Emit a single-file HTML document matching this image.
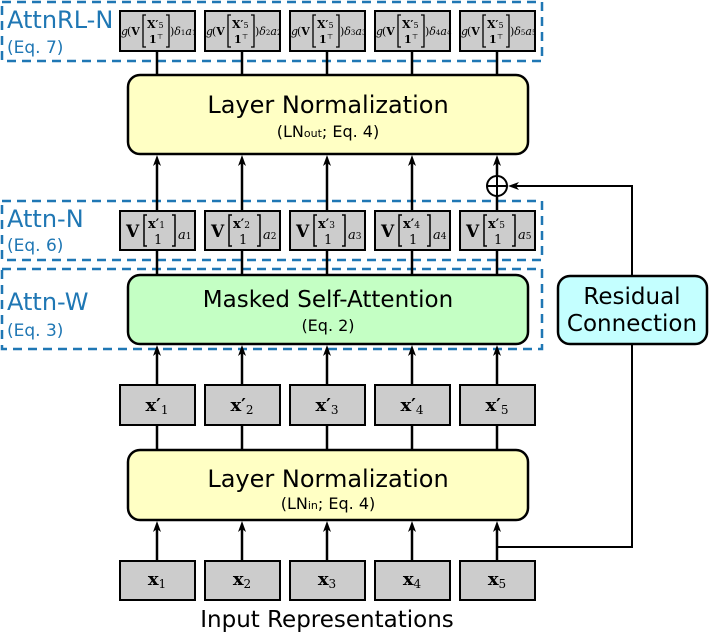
<!DOCTYPE html>
<html><head><meta charset="utf-8"><style>
html,body{margin:0;padding:0;background:#fff;}
svg{display:block;}
.sans{font-family:"DejaVu Sans","Liberation Sans",sans-serif;}
.ser{font-family:"DejaVu Serif","Liberation Serif",serif;}
</style></head><body>
<svg width="709" height="639" viewBox="0 0 709 639" xmlns="http://www.w3.org/2000/svg">

<!-- dashed groups -->
<g fill="none" stroke="#1f77b4" stroke-width="2.5" stroke-dasharray="9,6">
<rect x="2" y="2" width="540" height="59"/>
<rect x="2" y="201" width="540" height="59"/>
<rect x="2" y="269" width="540" height="80"/>
</g>
<g class="sans" fill="#1f77b4">
<text x="7" y="28" font-size="24">AttnRL-N</text>
<text x="7" y="53" font-size="17">(Eq. 7)</text>
<text x="7" y="227" font-size="24">Attn-N</text>
<text x="7" y="251" font-size="17">(Eq. 6)</text>
<text x="7" y="310" font-size="24">Attn-W</text>
<text x="7" y="336" font-size="17">(Eq. 3)</text>
</g>

<!-- vertical connectors -->
<g stroke="#000" stroke-width="2.5">
<line x1="157" y1="51" x2="157" y2="75"/><line x1="242" y1="51" x2="242" y2="75"/><line x1="327" y1="51" x2="327" y2="75"/><line x1="412" y1="51" x2="412" y2="75"/><line x1="497" y1="51" x2="497" y2="75"/>
<line x1="157" y1="211" x2="157" y2="160"/><line x1="242" y1="211" x2="242" y2="160"/><line x1="327" y1="211" x2="327" y2="160"/><line x1="412" y1="211" x2="412" y2="160"/><line x1="497" y1="176" x2="497" y2="160"/>
<line x1="497" y1="196" x2="497" y2="211"/>
<line x1="157" y1="250" x2="157" y2="275"/><line x1="242" y1="250" x2="242" y2="275"/><line x1="327" y1="250" x2="327" y2="275"/><line x1="412" y1="250" x2="412" y2="275"/><line x1="497" y1="250" x2="497" y2="275"/>
<line x1="157" y1="385" x2="157" y2="350"/><line x1="242" y1="385" x2="242" y2="350"/><line x1="327" y1="385" x2="327" y2="350"/><line x1="412" y1="385" x2="412" y2="350"/><line x1="497" y1="385" x2="497" y2="350"/>
<line x1="157" y1="425" x2="157" y2="450"/><line x1="242" y1="425" x2="242" y2="450"/><line x1="327" y1="425" x2="327" y2="450"/><line x1="412" y1="425" x2="412" y2="450"/><line x1="497" y1="425" x2="497" y2="450"/>
<line x1="157" y1="561" x2="157" y2="526"/><line x1="242" y1="561" x2="242" y2="526"/><line x1="327" y1="561" x2="327" y2="526"/><line x1="412" y1="561" x2="412" y2="526"/><line x1="497" y1="561" x2="497" y2="526"/>
<polyline points="497,547 632,547 632,186 512,186" fill="none" stroke-width="2"/>
<circle cx="497" cy="186" r="10" fill="#fff" stroke-width="2"/>
<line x1="487" y1="186" x2="507" y2="186" stroke-width="2"/>
<line x1="497" y1="176" x2="497" y2="196" stroke-width="2"/>
</g>
<!-- arrowheads -->
<g fill="#000">
<path d="M157,155 l-4,11 l4,-3 l4,3 Z"/><path d="M242,155 l-4,11 l4,-3 l4,3 Z"/><path d="M327,155 l-4,11 l4,-3 l4,3 Z"/><path d="M412,155 l-4,11 l4,-3 l4,3 Z"/><path d="M497,155 l-4,11 l4,-3 l4,3 Z"/>
<path d="M157,345 l-4,11 l4,-3 l4,3 Z"/><path d="M242,345 l-4,11 l4,-3 l4,3 Z"/><path d="M327,345 l-4,11 l4,-3 l4,3 Z"/><path d="M412,345 l-4,11 l4,-3 l4,3 Z"/><path d="M497,345 l-4,11 l4,-3 l4,3 Z"/>
<path d="M157,521 l-4,11 l4,-3 l4,3 Z"/><path d="M242,521 l-4,11 l4,-3 l4,3 Z"/><path d="M327,521 l-4,11 l4,-3 l4,3 Z"/><path d="M412,521 l-4,11 l4,-3 l4,3 Z"/><path d="M497,521 l-4,11 l4,-3 l4,3 Z"/>
<path d="M508,186 l11,-4 l-3,4 l3,4 Z"/>
</g>

<!-- big boxes -->
<g stroke="#000" stroke-width="2.5">
<rect x="128" y="75" width="400" height="79" rx="12" fill="#ffffc4"/>
<rect x="128" y="275" width="400" height="69" rx="12" fill="#c4ffc4"/>
<rect x="128" y="450" width="400" height="70" rx="12" fill="#ffffc4"/>
<rect x="558" y="276" width="149" height="68" rx="12" fill="#c4ffff"/>
</g>
<g class="sans" fill="#000" text-anchor="middle">
<text x="328" y="113" font-size="24">Layer Normalization</text>
<text x="328" y="137" font-size="16">(LN<tspan font-size="11">out</tspan>; Eq. 4)</text>
<text x="328" y="307" font-size="23">Masked Self-Attention</text>
<text x="328" y="331" font-size="16">(Eq. 2)</text>
<text x="328" y="487" font-size="24">Layer Normalization</text>
<text x="328" y="509" font-size="16">(LN<tspan font-size="11">in</tspan>; Eq. 4)</text>
<text x="632" y="304" font-size="23">Residual</text>
<text x="632" y="331" font-size="23">Connection</text>
<text x="327" y="627" font-size="23">Input Representations</text>
</g>

<!-- small boxes -->
<g fill="#cccccc" stroke="#000" stroke-width="2">
<rect x="120" y="11" width="75" height="40"/><rect x="205" y="11" width="75" height="40"/><rect x="290" y="11" width="75" height="40"/><rect x="375" y="11" width="75" height="40"/><rect x="460" y="11" width="75" height="40"/>
<rect x="120" y="211" width="75" height="39"/><rect x="205" y="211" width="75" height="39"/><rect x="290" y="211" width="75" height="39"/><rect x="375" y="211" width="75" height="39"/><rect x="460" y="211" width="75" height="39"/>
<rect x="120" y="385" width="75" height="40"/><rect x="205" y="385" width="75" height="40"/><rect x="290" y="385" width="75" height="40"/><rect x="375" y="385" width="75" height="40"/><rect x="460" y="385" width="75" height="40"/>
<rect x="120" y="561" width="75" height="39"/><rect x="205" y="561" width="75" height="39"/><rect x="290" y="561" width="75" height="39"/><rect x="375" y="561" width="75" height="39"/><rect x="460" y="561" width="75" height="39"/>
</g>

<!-- top box contents -->
<g class="ser" font-size="11">
<g transform="translate(120,0)">
<text x="1" y="35" font-style="italic">g</text><text x="7" y="35">(<tspan font-weight="bold">V</tspan></text>
<path d="M26,15 h-3 v32 h3 M46,15 h3 v32 h-3" fill="none" stroke="#000" stroke-width="1.3"/>
<text x="27" y="28" font-weight="bold">X′<tspan font-size="8" font-weight="normal">5</tspan></text>
<text x="29" y="43" font-weight="bold">1<tspan font-size="7" font-weight="normal" dy="-4">⊤</tspan></text>
<text x="50" y="35">)<tspan font-style="italic">δ</tspan><tspan font-size="7">1</tspan><tspan font-style="italic">a</tspan><tspan font-size="7">1</tspan></text>
</g>
<g transform="translate(205,0)">
<text x="1" y="35" font-style="italic">g</text><text x="7" y="35">(<tspan font-weight="bold">V</tspan></text>
<path d="M26,15 h-3 v32 h3 M46,15 h3 v32 h-3" fill="none" stroke="#000" stroke-width="1.3"/>
<text x="27" y="28" font-weight="bold">X′<tspan font-size="8" font-weight="normal">5</tspan></text>
<text x="29" y="43" font-weight="bold">1<tspan font-size="7" font-weight="normal" dy="-4">⊤</tspan></text>
<text x="50" y="35">)<tspan font-style="italic">δ</tspan><tspan font-size="7">2</tspan><tspan font-style="italic">a</tspan><tspan font-size="7">2</tspan></text>
</g>
<g transform="translate(290,0)">
<text x="1" y="35" font-style="italic">g</text><text x="7" y="35">(<tspan font-weight="bold">V</tspan></text>
<path d="M26,15 h-3 v32 h3 M46,15 h3 v32 h-3" fill="none" stroke="#000" stroke-width="1.3"/>
<text x="27" y="28" font-weight="bold">X′<tspan font-size="8" font-weight="normal">5</tspan></text>
<text x="29" y="43" font-weight="bold">1<tspan font-size="7" font-weight="normal" dy="-4">⊤</tspan></text>
<text x="50" y="35">)<tspan font-style="italic">δ</tspan><tspan font-size="7">3</tspan><tspan font-style="italic">a</tspan><tspan font-size="7">3</tspan></text>
</g>
<g transform="translate(375,0)">
<text x="1" y="35" font-style="italic">g</text><text x="7" y="35">(<tspan font-weight="bold">V</tspan></text>
<path d="M26,15 h-3 v32 h3 M46,15 h3 v32 h-3" fill="none" stroke="#000" stroke-width="1.3"/>
<text x="27" y="28" font-weight="bold">X′<tspan font-size="8" font-weight="normal">5</tspan></text>
<text x="29" y="43" font-weight="bold">1<tspan font-size="7" font-weight="normal" dy="-4">⊤</tspan></text>
<text x="50" y="35">)<tspan font-style="italic">δ</tspan><tspan font-size="7">4</tspan><tspan font-style="italic">a</tspan><tspan font-size="7">4</tspan></text>
</g>
<g transform="translate(460,0)">
<text x="1" y="35" font-style="italic">g</text><text x="7" y="35">(<tspan font-weight="bold">V</tspan></text>
<path d="M26,15 h-3 v32 h3 M46,15 h3 v32 h-3" fill="none" stroke="#000" stroke-width="1.3"/>
<text x="27" y="28" font-weight="bold">X′<tspan font-size="8" font-weight="normal">5</tspan></text>
<text x="29" y="43" font-weight="bold">1<tspan font-size="7" font-weight="normal" dy="-4">⊤</tspan></text>
<text x="50" y="35">)<tspan font-style="italic">δ</tspan><tspan font-size="7">5</tspan><tspan font-style="italic">a</tspan><tspan font-size="7">5</tspan></text>
</g>
</g>

<!-- Attn-N box contents -->
<g class="ser" font-size="17">
<g transform="translate(120,211)">
<text x="6" y="26" font-weight="bold">V</text>
<path d="M27,4 h-3 v31 h3 M52,4 h3 v31 h-3" fill="none" stroke="#000" stroke-width="1.5"/>
<text x="28" y="17" font-size="13" font-weight="bold">x′<tspan font-size="9" font-weight="normal">1</tspan></text>
<text x="34" y="33" font-size="13">1</text>
<text x="58" y="28" font-size="13" font-style="italic">a<tspan font-size="9" font-style="normal">1</tspan></text>
</g>
<g transform="translate(205,211)">
<text x="6" y="26" font-weight="bold">V</text>
<path d="M27,4 h-3 v31 h3 M52,4 h3 v31 h-3" fill="none" stroke="#000" stroke-width="1.5"/>
<text x="28" y="17" font-size="13" font-weight="bold">x′<tspan font-size="9" font-weight="normal">2</tspan></text>
<text x="34" y="33" font-size="13">1</text>
<text x="58" y="28" font-size="13" font-style="italic">a<tspan font-size="9" font-style="normal">2</tspan></text>
</g>
<g transform="translate(290,211)">
<text x="6" y="26" font-weight="bold">V</text>
<path d="M27,4 h-3 v31 h3 M52,4 h3 v31 h-3" fill="none" stroke="#000" stroke-width="1.5"/>
<text x="28" y="17" font-size="13" font-weight="bold">x′<tspan font-size="9" font-weight="normal">3</tspan></text>
<text x="34" y="33" font-size="13">1</text>
<text x="58" y="28" font-size="13" font-style="italic">a<tspan font-size="9" font-style="normal">3</tspan></text>
</g>
<g transform="translate(375,211)">
<text x="6" y="26" font-weight="bold">V</text>
<path d="M27,4 h-3 v31 h3 M52,4 h3 v31 h-3" fill="none" stroke="#000" stroke-width="1.5"/>
<text x="28" y="17" font-size="13" font-weight="bold">x′<tspan font-size="9" font-weight="normal">4</tspan></text>
<text x="34" y="33" font-size="13">1</text>
<text x="58" y="28" font-size="13" font-style="italic">a<tspan font-size="9" font-style="normal">4</tspan></text>
</g>
<g transform="translate(460,211)">
<text x="6" y="26" font-weight="bold">V</text>
<path d="M27,4 h-3 v31 h3 M52,4 h3 v31 h-3" fill="none" stroke="#000" stroke-width="1.5"/>
<text x="28" y="17" font-size="13" font-weight="bold">x′<tspan font-size="9" font-weight="normal">5</tspan></text>
<text x="34" y="33" font-size="13">1</text>
<text x="58" y="28" font-size="13" font-style="italic">a<tspan font-size="9" font-style="normal">5</tspan></text>
</g>
</g>

<!-- x' and x boxes -->
<g class="ser" font-size="18" text-anchor="middle">
<text x="157" y="411" font-weight="bold">x′<tspan font-size="12" font-weight="normal" dy="3">1</tspan></text>
<text x="242" y="411" font-weight="bold">x′<tspan font-size="12" font-weight="normal" dy="3">2</tspan></text>
<text x="327" y="411" font-weight="bold">x′<tspan font-size="12" font-weight="normal" dy="3">3</tspan></text>
<text x="412" y="411" font-weight="bold">x′<tspan font-size="12" font-weight="normal" dy="3">4</tspan></text>
<text x="497" y="411" font-weight="bold">x′<tspan font-size="12" font-weight="normal" dy="3">5</tspan></text>
<text x="157" y="585" font-weight="bold">x<tspan font-size="12" font-weight="normal" dy="3">1</tspan></text>
<text x="242" y="585" font-weight="bold">x<tspan font-size="12" font-weight="normal" dy="3">2</tspan></text>
<text x="327" y="585" font-weight="bold">x<tspan font-size="12" font-weight="normal" dy="3">3</tspan></text>
<text x="412" y="585" font-weight="bold">x<tspan font-size="12" font-weight="normal" dy="3">4</tspan></text>
<text x="497" y="585" font-weight="bold">x<tspan font-size="12" font-weight="normal" dy="3">5</tspan></text>
</g>
</svg>
</body></html>
